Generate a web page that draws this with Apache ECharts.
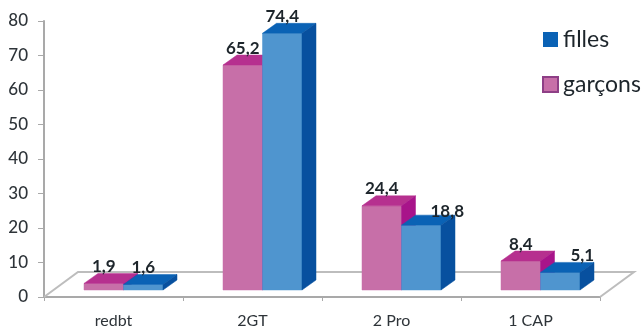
<!DOCTYPE html>
<html>
<head>
<meta charset="utf-8">
<style>html,body{margin:0;padding:0;background:#fff}#c{width:641px;height:329px}</style>
<script src="https://cdn.jsdelivr.net/npm/echarts@6/dist/echarts.min.js"></script>
</head>
<body>
<div id="c"></div>
<script>
const categories = ['redbt', '2GT', '2 Pro', '1 CAP'];
const garcons = [1.9, 65.2, 24.4, 8.4];
const filles = [1.6, 74.4, 18.8, 5.1];
const yTicks = [0, 10, 20, 30, 40, 50, 60, 70, 80];

// Oblique projection of the box faces and the floor
const DEPTH_X = 14, DEPTH_Y = -10, LIFT = 7, BAR_W = 39.5;

function boxes(barOffset, colors, labelShift) {
  return function (params, api) {
    const i = api.value(0), v = api.value(1);
    const top = api.coord([i, v]), base = api.coord([i, 0]);
    const x0 = top[0] + barOffset, x1 = x0 + BAR_W;
    const y0 = top[1] - LIFT, y1 = base[1] - LIFT;
    const poly = (points, fill) => ({
      type: 'polygon', shape: { points }, style: { fill, stroke: fill, lineWidth: 0.5 }
    });
    const shift = labelShift[i] || [0, 0];
    return {
      type: 'group',
      children: [
        poly([[x0, y1], [x1, y1], [x1, y0], [x0, y0]], colors.front),
        poly([[x0, y0], [x1, y0], [x1 + DEPTH_X, y0 + DEPTH_Y], [x0 + DEPTH_X, y0 + DEPTH_Y]], colors.top),
        poly([[x1, y1], [x1 + DEPTH_X, y1 + DEPTH_Y], [x1 + DEPTH_X, y0 + DEPTH_Y], [x1, y0]], colors.side),
        {
          type: 'text',
          z2: 10,
          style: {
            text: v.toFixed(1).replace('.', ','),
            x: x0 + BAR_W / 2 + shift[0], y: y0 - 17 + shift[1],
            align: 'center', verticalAlign: 'middle',
            font: 'bold 17px Lato', fill: '#1d252b'
          }
        }
      ]
    };
  };
}

function floor(params) {
  const g = params.coordSys, bottom = g.y + g.height, d = 34, back = bottom - 25;
  return {
    type: 'polyline',
    silent: true,
    shape: { points: [[g.x, bottom], [g.x + d, back], [g.x + g.width + d, back], [g.x + g.width, bottom]] },
    style: { fill: null, stroke: '#bdbdbd', lineWidth: 2 }
  };
}

const chart = echarts.init(document.getElementById('c'), null, { renderer: 'canvas' });
chart.setOption({
  animation: false,
  backgroundColor: '#fff',
  grid: { left: 44, right: 41, top: 21, bottom: 32 },
  legend: {
    data: ['filles', 'garçons'],
    orient: 'vertical', left: 542, top: 28, padding: 0,
    itemWidth: 15, itemHeight: 15, itemGap: 22,
    icon: 'rect',
    textStyle: { fontFamily: 'Lato', fontSize: 23, color: '#1d252b' }
  },
  xAxis: {
    type: 'category', data: categories,
    axisLine: { lineStyle: { color: '#a9a9a9', width: 2 } },
    axisTick: { show: true, alignWithLabel: false, length: 4, lineStyle: { color: '#a9a9a9' } },
    axisLabel: { fontFamily: 'Lato', fontSize: 16, color: '#2e3439', margin: 16 },
    splitLine: { show: false }
  },
  yAxis: {
    type: 'value', min: 0, max: 80, interval: 10,
    axisLine: { show: true, lineStyle: { color: '#a9a9a9', width: 2 } },
    axisTick: { show: true, length: 6, lineStyle: { color: '#a9a9a9' } },
    axisLabel: { fontFamily: 'Lato', fontSize: 17, fontWeight: 500, color: '#2e3439', margin: 16,
      formatter: v => yTicks.includes(v) ? String(v) : '' },
    splitLine: { show: false }
  },
  series: [
    { type: 'custom', name: 'floor', coordinateSystem: 'cartesian2d', data: [[0, 0]], renderItem: floor, silent: true, z: 1 },
    {
      type: 'custom', name: 'garçons', z: 2,
      itemStyle: { color: '#c76fa8', borderColor: '#8e3f86', borderWidth: 1 },
      encode: { x: 0, y: 1 },
      data: garcons.map((v, i) => [i, v]),
      renderItem: boxes(-29.5, { front: '#c76fa8', top: '#b6308f', side: '#a8148a' }, {})
    },
    {
      type: 'custom', name: 'filles', z: 3,
      itemStyle: { color: '#0a62b5' },
      encode: { x: 0, y: 1 },
      data: filles.map((v, i) => [i, v]),
      renderItem: boxes(10, { front: '#4f95cf', top: '#0a62b5', side: '#07509f' }, { 2: [26, 3], 3: [22, 0] })
    }
  ]
});
</script>
</body>
</html>
